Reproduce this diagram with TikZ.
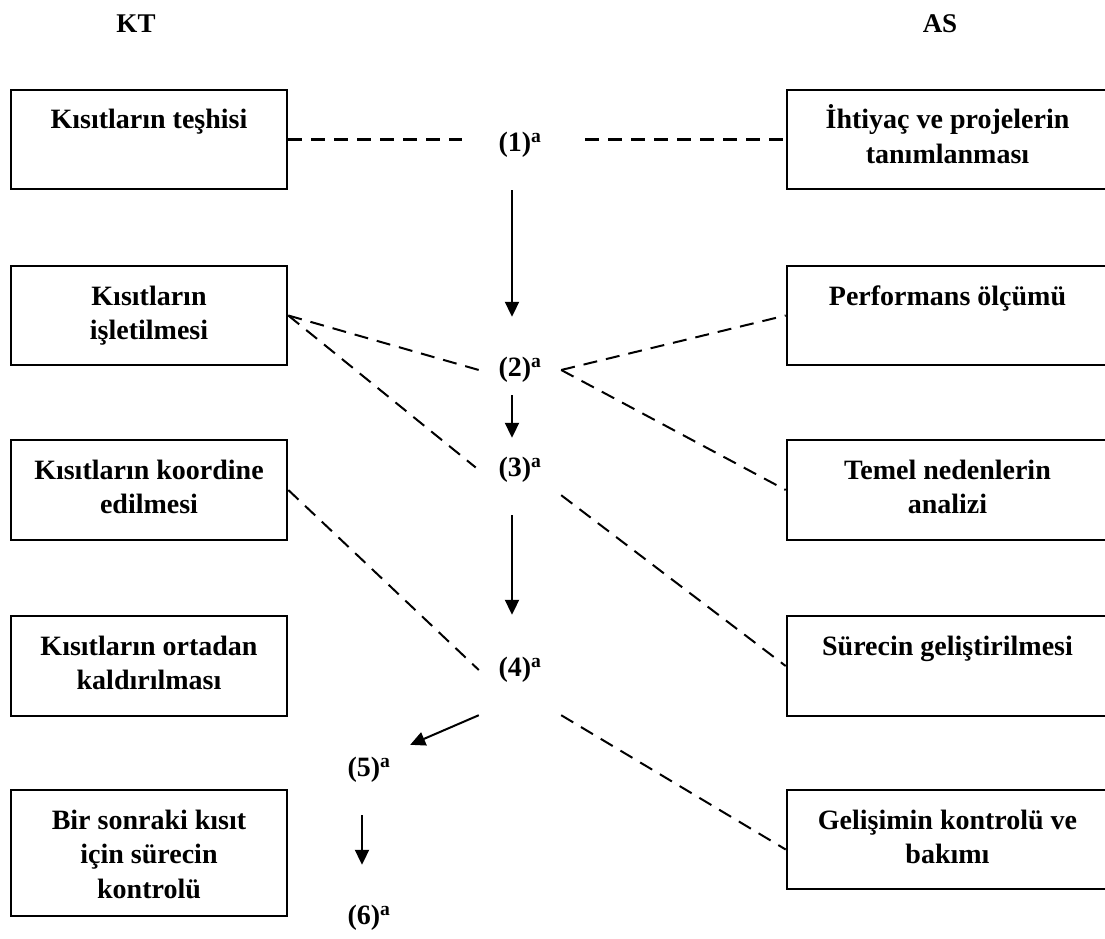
\documentclass[tikz,border=0pt]{standalone}
\usepackage{fontspec}
\setmainfont{Liberation Serif}
\usetikzlibrary{arrows.meta}
\tikzset{
  stagebox/.style={draw, line width=2.6pt, inner sep=0pt, font=\bfseries\fontsize{28}{34.5}\selectfont},
  steplabel/.style={inner sep=0pt, minimum width=82pt, minimum height=50pt, font=\bfseries\fontsize{28}{34}\selectfont},
  headlabel/.style={font=\bfseries\fontsize{27}{32}\selectfont},
  dashline/.style={line width=2pt, dash pattern=on 14pt off 9pt},
  flowarrow/.style={line width=2pt, -{Triangle[length=15pt,width=14pt]}}
}
\newcommand{\lbox}[2]{\parbox[c][#1][t]{276pt}{\centering\rule{0pt}{39pt}#2}}
\newcommand{\rbox}[2]{\parbox[c][#1][t]{321pt}{\centering\rule{0pt}{39pt}#2}}
\begin{document}
\begin{tikzpicture}[x=1pt,y=-1pt]
\useasboundingbox (0,0) rectangle (1105,939);
\clip (0,0) rectangle (1105,939);

\node[headlabel] (kt) at (136,24) {KT};
\node[headlabel] (as) at (940,24) {AS};

% left column
\node[stagebox] (l1) at (149,139.5) {\lbox{99pt}{Kısıtların teşhisi}};
\node[stagebox] (l2) at (149,315.5) {\lbox{99pt}{Kısıtların\\işletilmesi}};
\node[stagebox] (l3) at (149,490) {\lbox{100pt}{Kısıtların koordine\\edilmesi}};
\node[stagebox] (l4) at (149,666) {\lbox{100pt}{Kısıtların ortadan\\kaldırılması}};
\node[stagebox] (l5) at (149,853) {\lbox{126pt}{Bir sonraki kısıt\\için sürecin\\kontrolü}};

% right column
\node[stagebox] (r1) at (947.5,139.5) {\rbox{99pt}{İhtiyaç ve projelerin\\tanımlanması}};
\node[stagebox] (r2) at (947.5,315.5) {\rbox{99pt}{Performans ölçümü}};
\node[stagebox] (r3) at (947.5,490) {\rbox{100pt}{Temel nedenlerin\\analizi}};
\node[stagebox] (r4) at (947.5,666) {\rbox{100pt}{Sürecin geliştirilmesi}};
\node[stagebox] (r5) at (947.5,839.5) {\rbox{99pt}{Gelişimin kontrolü ve\\bakımı}};

% step labels
\node[steplabel] (n1) at (520,145) {(1)\textsuperscript{a}};
\node[steplabel] (n2) at (520,370) {(2)\textsuperscript{a}};
\node[steplabel] (n3) at (520,470) {(3)\textsuperscript{a}};
\node[steplabel, minimum height=90pt] (n4) at (520,670) {(4)\textsuperscript{a}};
\node[steplabel] (n5) at (369,770) {(5)\textsuperscript{a}};
\node[steplabel] (n6) at (369,918) {(6)\textsuperscript{a}};

% dashed links
\draw[dashline, shorten >=17pt] (l1.east) -- (l1.east -| n1.west);
\draw[dashline, shorten <=24pt] (n1.east |- r1.west) -- (r1.west);
\draw[dashline] (l2.east) -- (n2.west);
\draw[dashline, shorten >=4pt] (l2.east) -- (n3.west);
\draw[dashline] (n2.east) -- (r2.west);
\draw[dashline] (n2.east) -- (r3.west);
\draw[dashline] (n3.south east) -- (r4.west);
\draw[dashline] (l3.east) -- (n4.west);
\draw[dashline] (n4.south east) -- ([yshift=-10pt]r5.west);

% flow arrows
\draw[flowarrow, shorten <=20pt, shorten >=28pt] ([xshift=-8pt]n1.south) -- ([xshift=-8pt]n2.north);
\draw[flowarrow, shorten >=7pt] ([xshift=-8pt]n2.south) -- ([xshift=-8pt]n3.north);
\draw[flowarrow, shorten <=20pt, shorten >=10pt] ([xshift=-8pt]n3.south) -- ([xshift=-8pt]n4.north);
\draw[flowarrow] (n4.south west) -- (n5.north east);
\draw[flowarrow, shorten <=20pt, shorten >=28pt] ([xshift=-7pt]n5.south) -- ([xshift=-7pt]n6.north);
\end{tikzpicture}
\end{document}
